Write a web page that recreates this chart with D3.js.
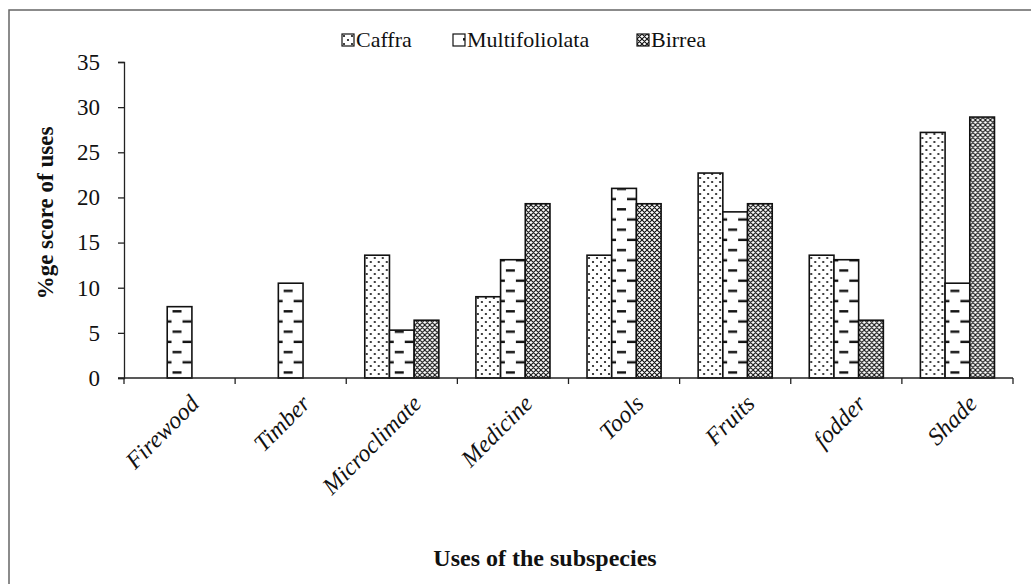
<!DOCTYPE html>
<html>
<head>
<meta charset="utf-8">
<script src="https://cdn.jsdelivr.net/npm/d3@7.9.0/dist/d3.min.js"></script>
<style>
  body { margin: 0; background: #fff; }
  svg { display: block; font-family: "Liberation Serif", "Times New Roman", serif; }
</style>
</head>
<body>
<svg id="chart" width="1031" height="584"></svg>
<script>
const categories = ['Firewood', 'Timber', 'Microclimate', 'Medicine', 'Tools', 'Fruits', 'fodder', 'Shade'];
const seriesNames = ['Caffra', 'Multifoliolata', 'Birrea'];
const caffra = [0, 0, 13.6, 9.0, 13.6, 22.7, 13.6, 27.2];
const multifoliolata = [7.9, 10.5, 5.3, 13.1, 21.0, 18.4, 13.1, 10.5];
const birrea = [0, 0, 6.4, 19.3, 19.3, 19.3, 6.4, 28.9];
const yTicks = [0, 5, 10, 15, 20, 25, 30, 35];

const svg = d3.select('#chart');
const plotLeft = 124, plotRight = 1013, plotTop = 62, plotBottom = 378;

// frame around the figure (only left/top visible in the scan)
svg.append('path')
  .attr('d', 'M9,584 L9,10 L1031,10')
  .attr('fill', 'none')
  .attr('stroke', '#666')
  .attr('stroke-width', 1.5);

// patterns
const defs = svg.append('defs');

let pDots = defs.append('pattern')
  .attr('id', 'pat-caffra')
  .attr('patternUnits', 'userSpaceOnUse')
  .attr('width', 8).attr('height', 8);
pDots.append('rect').attr('width', 8).attr('height', 8).attr('fill', '#fff');
pDots.append('circle').attr('cx', 2).attr('cy', 2).attr('r', 1.1).attr('fill', '#111');
pDots.append('circle').attr('cx', 6).attr('cy', 6).attr('r', 1.1).attr('fill', '#111');

let pDash = defs.append('pattern')
  .attr('id', 'pat-multi')
  .attr('patternUnits', 'userSpaceOnUse')
  .attr('y', plotBottom)
  .attr('width', 20).attr('height', 20.4);
pDash.append('rect').attr('width', 20).attr('height', 20.4).attr('fill', '#fff');
pDash.append('rect').attr('x', 0).attr('y', 3.5).attr('width', 9).attr('height', 2.4).attr('fill', '#111');
pDash.append('rect').attr('x', 10).attr('y', 13.7).attr('width', 9).attr('height', 2.4).attr('fill', '#111');

let pHatch = defs.append('pattern')
  .attr('id', 'pat-birrea')
  .attr('patternUnits', 'userSpaceOnUse')
  .attr('width', 5).attr('height', 5);
pHatch.append('rect').attr('width', 5).attr('height', 5).attr('fill', '#fff');
pHatch.append('path')
  .attr('d', 'M0,0 L5,5 M5,0 L0,5 M-1,4 L1,6 M4,-1 L6,1 M-1,1 L1,-1 M4,6 L6,4')
  .attr('stroke', '#111')
  .attr('stroke-width', 1.1);

const fills = ['url(#pat-caffra)', 'url(#pat-multi)', 'url(#pat-birrea)'];
const seriesData = [caffra, multifoliolata, birrea];

// scales
const x0 = d3.scaleBand()
  .domain(categories)
  .range([plotLeft, plotRight])
  .paddingInner(1 / 3)
  .paddingOuter(1 / 6);

const x1 = d3.scaleBand()
  .domain(seriesNames)
  .range([0, x0.bandwidth()]);

const y = d3.scaleLinear().domain([0, 35]).range([plotBottom, plotTop]);

// bars
const groups = svg.append('g').selectAll('g')
  .data(categories)
  .join('g')
  .attr('transform', d => `translate(${x0(d)},0)`);

groups.selectAll('rect')
  .data((cat, i) => seriesNames.map((s, j) => ({ s, j, v: seriesData[j][i] })).filter(d => d.v > 0))
  .join('rect')
  .attr('x', d => x1(d.s))
  .attr('y', d => y(d.v))
  .attr('width', x1.bandwidth())
  .attr('height', d => y(0) - y(d.v))
  .attr('fill', d => fills[d.j])
  .attr('stroke', '#111')
  .attr('stroke-width', 1.6);

// y axis
const yAxis = svg.append('g')
  .attr('transform', `translate(${plotLeft},0)`)
  .call(d3.axisLeft(y).tickValues(yTicks).tickSize(6).tickPadding(18));
yAxis.attr('font-family', null);
yAxis.select('.domain').attr('stroke', '#222').attr('stroke-width', 1.3);
yAxis.selectAll('.tick line').attr('stroke', '#222').attr('stroke-width', 1.3);
yAxis.selectAll('text')
  .attr('font-size', 23)
  .attr('fill', '#111');

// x axis line and ticks at category boundaries
const step = x0.step();
const boundaries = categories.map(c => x0(c) - step * x0.paddingInner() / 2)
  .concat([x0(categories[categories.length - 1]) + x0.bandwidth() + step * x0.paddingInner() / 2]);

svg.append('line')
  .attr('x1', plotLeft - 6).attr('x2', plotRight)
  .attr('y1', y(0)).attr('y2', y(0))
  .attr('stroke', '#222').attr('stroke-width', 1.3);

svg.append('g').selectAll('line')
  .data(boundaries)
  .join('line')
  .attr('x1', d => d).attr('x2', d => d)
  .attr('y1', y(0)).attr('y2', y(0) + 6)
  .attr('stroke', '#222').attr('stroke-width', 1.3);

// x category labels
svg.append('g').selectAll('text')
  .data(categories)
  .join('text')
  .attr('transform', d => `translate(${x0(d) + x0.bandwidth() / 2 + 21},${y(0) + 27}) rotate(-45)`)
  .attr('text-anchor', 'end')
  .attr('font-style', 'italic')
  .attr('font-size', 24)
  .attr('fill', '#111')
  .text(d => d);

// axis titles
svg.append('text')
  .attr('transform', `translate(53,213) rotate(-90)`)
  .attr('text-anchor', 'middle')
  .attr('font-weight', 'bold')
  .attr('font-size', 23)
  .attr('fill', '#111')
  .text('%ge score of uses');

svg.append('text')
  .attr('x', 545)
  .attr('y', 566)
  .attr('text-anchor', 'middle')
  .attr('font-weight', 'bold')
  .attr('font-size', 24)
  .attr('fill', '#111')
  .text('Uses of the subspecies');

// legend
const legendX = [342, 453, 637];
const legend = svg.append('g').selectAll('g')
  .data(seriesNames)
  .join('g')
  .attr('transform', (d, i) => `translate(${legendX[i]},34)`);

legend.append('rect')
  .attr('x', 0).attr('y', 0)
  .attr('width', 12).attr('height', 12)
  .attr('fill', (d, i) => fills[i])
  .attr('stroke', '#111')
  .attr('stroke-width', 1.2);

legend.append('text')
  .attr('x', 14)
  .attr('y', 13)
  .attr('font-size', 22)
  .attr('fill', '#111')
  .text(d => d);
</script>
</body>
</html>
